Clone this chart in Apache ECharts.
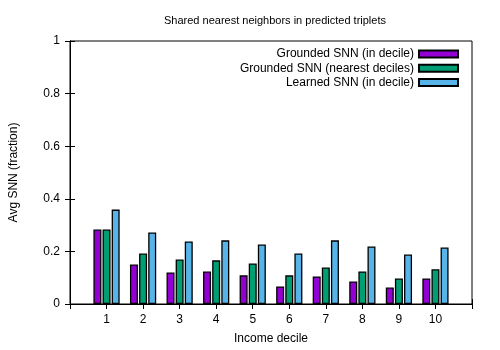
<!DOCTYPE html>
<html>
<head>
<meta charset="utf-8">
<script src="https://cdn.jsdelivr.net/npm/echarts@6/dist/echarts.min.js"></script>
<style>
  html, body { margin: 0; padding: 0; background: #fff; }
  #chart { width: 500px; height: 350px; }
</style>
</head>
<body>
<div id="chart"></div>
<script>
// income deciles and the three bar series
var deciles = [1, 2, 3, 4, 5, 6, 7, 8, 9, 10];
var groundedInDecile = [0.283, 0.150, 0.120, 0.124, 0.109, 0.067, 0.105, 0.086, 0.063, 0.097];
var groundedNearest = [0.283, 0.192, 0.169, 0.166, 0.154, 0.109, 0.139, 0.124, 0.097, 0.132];
var learnedInDecile = [0.359, 0.272, 0.238, 0.242, 0.226, 0.192, 0.242, 0.219, 0.188, 0.215];
var seriesNames = ["Grounded SNN (in decile)", "Grounded SNN (nearest deciles)", "Learned SNN (in decile)"];
var colors = ["#9400d3", "#009e73", "#56b4e9"];

var font = "Liberation Sans";
var chart = echarts.init(document.getElementById("chart"));

function pairs(vals) {
  return deciles.map(function (d, i) { return [d, vals[i]]; });
}

var allVals = [groundedInDecile, groundedNearest, learnedInDecile];
var series = allVals.map(function (vals, i) {
  return {
    name: seriesNames[i],
    type: "bar",
    data: pairs(vals),
    barWidth: 8,
    barGap: "14%",
    itemStyle: { color: colors[i], borderColor: "#000", borderWidth: 1.3 }
  };
});

// one legend per row so that each row is right aligned
var legends = seriesNames.map(function (n, i) {
  return {
    data: [n],
    right: 41,
    top: 48 + i * 14.3,
    padding: 0,
    align: "right",
    icon: "rect",
    itemWidth: 39,
    itemHeight: 7,
    itemGap: 0,
    selectedMode: false,
    textStyle: { fontFamily: font, fontSize: 12, color: "#000" }
  };
});

var tickStyle = { show: true, inside: true, length: 5, lineStyle: { color: "#000" } };

chart.setOption({
  animation: false,
  title: {
    text: "Shared nearest neighbors in predicted triplets",
    left: 270, top: 10, textAlign: "center",
    textStyle: { fontFamily: font, fontSize: 11, fontWeight: "normal", color: "#000" }
  },
  legend: legends,
  grid: { left: 68, right: 28, top: 41, bottom: 45, show: true, borderColor: "#000", borderWidth: 1 },
  xAxis: [{
    type: "value", min: 0, max: 11, interval: 1,
    name: "Income decile", nameLocation: "middle", nameGap: 29,
    nameTextStyle: { fontFamily: font, fontSize: 12, color: "#000" },
    axisLine: { lineStyle: { color: "#000" } },
    axisTick: tickStyle,
    splitLine: { show: false },
    axisLabel: {
      fontFamily: font, fontSize: 12, color: "#000", margin: 10,
      formatter: function (v) { return (v >= 1 && v <= 10) ? String(v) : ""; }
    }
  }, {
    type: "value", position: "top", min: 0, max: 11, interval: 1,
    axisLine: { lineStyle: { color: "#000" } },
    axisTick: tickStyle, axisLabel: { show: false }, splitLine: { show: false }
  }],
  yAxis: [{
    type: "value", min: 0, max: 1, interval: 0.2,
    name: "Avg SNN (fraction)", nameLocation: "middle", nameGap: 50,
    nameTextStyle: { fontFamily: font, fontSize: 12, color: "#000" },
    axisLine: { show: true, lineStyle: { color: "#000" } },
    axisTick: tickStyle,
    splitLine: { show: false },
    axisLabel: { fontFamily: font, fontSize: 12, color: "#000", margin: 10 }
  }, {
    type: "value", position: "right", min: 0, max: 1, interval: 0.2,
    axisLine: { show: true, lineStyle: { color: "#000" } },
    axisTick: tickStyle, axisLabel: { show: false }, splitLine: { show: false }
  }],
  series: series
});
</script>
</body>
</html>
